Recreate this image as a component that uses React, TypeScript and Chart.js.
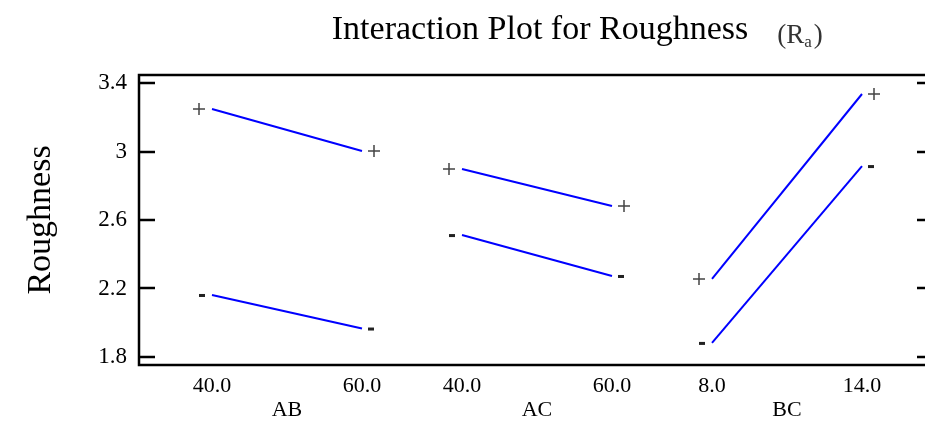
import React, { useEffect, useRef } from 'react';
import { Chart, registerables } from 'chart.js';

Chart.register(...registerables);

// ---- data ----
const groups = ['AB', 'AC', 'BC'];
const levelLabels = [
  ['40.0', '60.0'],
  ['40.0', '60.0'],
  ['8.0', '14.0'],
];
const plusLow = [3.248, 2.898, 2.256];
const plusHigh = [3.003, 2.682, 3.336];
const minusLow = [2.162, 2.512, 1.882];
const minusHigh = [1.966, 2.273, 2.915];
const yTicks = [1.8, 2.2, 2.6, 3.0, 3.4];
const yTickLabels = ['1.8', '2.2', '2.6', '3', '3.4'];
const yMin = 1.753;
const yMax = 3.447;
const titleText = 'Interaction Plot for Roughness';
const yTitle = 'Roughness';

// x axis layout in data units: each factor occupies LEVEL_SPAN, groups spaced GROUP_STEP apart
const GROUP_STEP = 5;
const LEVEL_SPAN = 3;
const X_MIN = -1.46;
const X_MAX = 14.42;
const xOf = (g: number, lvl: number) => g * GROUP_STEP + lvl * LEVEL_SPAN;

const SERIF = "'Liberation Serif', 'Times New Roman', serif";

const levelTickValues: number[] = [];
const levelTickLabels: string[] = [];
groups.forEach((_, i) => {
  [0, 1].forEach((l) => {
    levelTickValues.push(xOf(i, l));
    levelTickLabels.push(levelLabels[i][l]);
  });
});
const groupTickValues = groups.map((_, i) => xOf(i, 0.5));

function buildDatasets() {
  const ds: any[] = [];
  groups.forEach((g, i) => {
    ds.push({
      label: g + ' +',
      sign: '+',
      data: [
        { x: xOf(i, 0), y: plusLow[i] },
        { x: xOf(i, 1), y: plusHigh[i] },
      ],
    });
    ds.push({
      label: g + ' -',
      sign: '-',
      data: [
        { x: xOf(i, 0), y: minusLow[i] },
        { x: xOf(i, 1), y: minusHigh[i] },
      ],
    });
  });
  return ds.map((d) => ({
    ...d,
    borderColor: '#0000ff',
    backgroundColor: '#0000ff',
    borderWidth: 2,
    pointRadius: 0,
    tension: 0,
    fill: false,
  }));
}

const framePlugin = {
  id: 'frameAndMarks',
  afterDraw(chart: any) {
    const { ctx, chartArea } = chart;
    const { left, right, top, bottom } = chartArea;
    const y = chart.scales.y;
    ctx.save();
    // frame
    ctx.strokeStyle = '#000';
    ctx.lineWidth = 2.5;
    ctx.strokeRect(left, top, right - left, bottom - top);
    // inward tick marks on both sides
    ctx.lineWidth = 2.5;
    y.ticks.forEach((t: any) => {
      const py = Math.round(y.getPixelForValue(t.value));
      ctx.beginPath();
      ctx.moveTo(left, py);
      ctx.lineTo(left + 16, py);
      ctx.moveTo(right, py);
      ctx.lineTo(right - 16, py);
      ctx.stroke();
    });

    // +/- markers at the ends of every line
    const drawSign = (sign: string, cx: number, cy: number) => {
      if (sign === '+') {
        ctx.strokeStyle = '#444';
        ctx.lineWidth = 1.5;
        ctx.beginPath();
        ctx.moveTo(cx - 6, cy);
        ctx.lineTo(cx + 6, cy);
        ctx.moveTo(cx, cy - 6);
        ctx.lineTo(cx, cy + 6);
        ctx.stroke();
      } else {
        ctx.fillStyle = '#222';
        ctx.fillRect(cx - 3, cy - 1, 6, 3);
      }
    };
    chart.data.datasets.forEach((ds: any, i: number) => {
      const pts = chart.getDatasetMeta(i).data;
      const first = pts[0];
      const last = pts[pts.length - 1];
      const off = ds.sign === '+' ? 13 : 10;
      drawSign(ds.sign, first.x - off, first.y);
      drawSign(ds.sign, last.x + off - 1, last.y);
    });

    // title
    ctx.fillStyle = '#000';
    ctx.textBaseline = 'alphabetic';
    ctx.textAlign = 'center';
    ctx.font = `34px ${SERIF}`;
    const cx = 540;
    ctx.fillText(titleText, cx, 39);
    const w = ctx.measureText(titleText).width;
    let x = cx + w / 2 + 29;
    ctx.textAlign = 'left';
    ctx.fillStyle = '#333';
    ctx.font = `27px ${SERIF}`;
    ctx.fillText('(R', x, 43);
    x += ctx.measureText('(R').width;
    ctx.font = `17px ${SERIF}`;
    ctx.fillText('a', x, 47);
    x += ctx.measureText('a').width + 2;
    ctx.font = `27px ${SERIF}`;
    ctx.fillText(')', x, 43);
    ctx.restore();
  },
};

export default function App() {
  const ref = useRef<HTMLCanvasElement | null>(null);
  useEffect(() => {
    if (!ref.current) return;
    const chart = new Chart(ref.current, {
      type: 'line',
      data: { datasets: buildDatasets() },
      options: {
        animation: false,
        responsive: false,
        devicePixelRatio: 1,
        layout: { padding: { top: 75, right: 12, left: 0, bottom: 0 } },
        plugins: {
          legend: { display: false },
          tooltip: { enabled: false },
          title: { display: false },
        },
        scales: {
          x: {
            type: 'linear',
            position: 'bottom',
            weight: 0,
            min: X_MIN,
            max: X_MAX,
            grid: { display: false, drawTicks: false },
            border: { display: false },
            afterBuildTicks: (scale: any) => {
              scale.ticks = levelTickValues.map((v) => ({ value: v }));
            },
            afterFit: (scale: any) => {
              scale.height = 31;
            },
            ticks: {
              autoSkip: false,
              maxRotation: 0,
              padding: 8,
              color: '#000',
              font: { family: SERIF, size: 22 },
              callback: (_v: any, i: number) => levelTickLabels[i],
            },
          },
          x2: {
            type: 'linear',
            position: 'bottom',
            weight: 1,
            min: X_MIN,
            max: X_MAX,
            grid: { display: false, drawTicks: false },
            border: { display: false },
            afterBuildTicks: (scale: any) => {
              scale.ticks = groupTickValues.map((v) => ({ value: v }));
            },
            afterFit: (scale: any) => {
              scale.height = 26;
            },
            ticks: {
              autoSkip: false,
              maxRotation: 0,
              padding: 1,
              color: '#000',
              font: { family: SERIF, size: 22 },
              callback: (_v: any, i: number) => groups[i],
            },
          },
          y: {
            type: 'linear',
            min: yMin,
            max: yMax,
            grid: { display: false, drawTicks: false },
            border: { display: false },
            afterBuildTicks: (scale: any) => {
              scale.ticks = yTicks.map((v) => ({ value: v }));
            },
            afterFit: (scale: any) => {
              scale.width = 139;
            },
            ticks: {
              padding: 12,
              color: '#000',
              font: { family: SERIF, size: 23 },
              callback: (_v: any, i: number) => yTickLabels[i],
            },
            title: {
              display: true,
              text: yTitle,
              color: '#000',
              font: { family: SERIF, size: 34 },
              padding: { top: 21, bottom: 0 },
            },
          },
        },
      } as any,
      plugins: [framePlugin],
    });
    return () => chart.destroy();
  }, []);

  return (
    <div
      style={{
        position: 'fixed',
        left: 0,
        top: 0,
        width: 925,
        height: 422,
        overflow: 'hidden',
        background: '#fff',
      }}
    >
      <canvas
        ref={ref}
        width={945}
        height={422}
        style={{ display: 'block', width: 945, height: 422 }}
      />
    </div>
  );
}
